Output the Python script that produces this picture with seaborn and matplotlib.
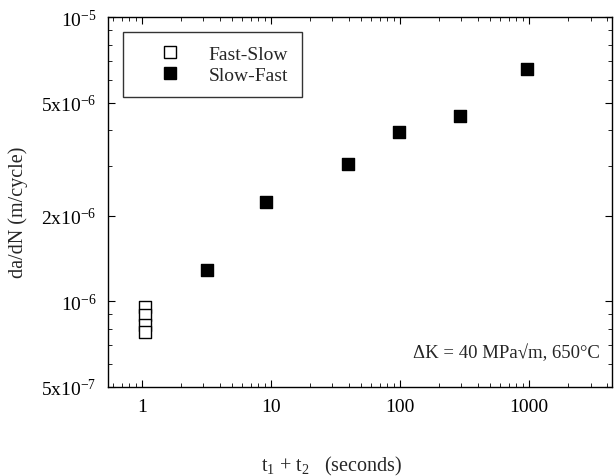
import matplotlib
matplotlib.use("Agg")
import matplotlib.pyplot as plt
import seaborn as sns
import pandas as pd
import numpy as np
from matplotlib.ticker import FixedLocator, FixedFormatter, LogLocator, NullFormatter
from matplotlib.lines import Line2D

# Data
fast_slow_t = [1.05, 1.05, 1.05, 1.05]
fast_slow_rate = [9.54e-7, 8.98e-7, 8.28e-7, 7.79e-7]
slow_fast_t = [3.2, 9.1, 39.5, 98, 292, 965]
slow_fast_rate = [1.29e-6, 2.24e-6, 3.04e-6, 3.94e-6, 4.49e-6, 6.56e-6]
xtick_vals = [1, 10, 100, 1000]
xtick_labels = ["1", "10", "100", "1000"]
ytick_vals = [5e-7, 1e-6, 2e-6, 5e-6, 1e-5]
ytick_labels = [r"5x10$^{-7}$", r"10$^{-6}$", r"2x10$^{-6}$", r"5x10$^{-6}$", r"10$^{-5}$"]

sns.set_theme(style="ticks")
plt.rcParams["font.family"] = ["Liberation Serif", "DejaVu Serif"]
plt.rcParams["mathtext.fontset"] = "custom"
plt.rcParams["mathtext.rm"] = "Liberation Serif"
plt.rcParams["mathtext.it"] = "Liberation Serif:italic"

fig = plt.figure(figsize=(6.16, 4.77), dpi=100)
ax = fig.add_axes([0.175, 0.1866, 0.8185, 0.7754])

df_fs = pd.DataFrame({"t": fast_slow_t, "r": fast_slow_rate})
df_sf = pd.DataFrame({"t": slow_fast_t, "r": slow_fast_rate})

sns.scatterplot(data=df_fs, x="t", y="r", marker="s", s=75, facecolor="white",
                edgecolor="black", linewidth=1.0, ax=ax, zorder=3)
sns.scatterplot(data=df_sf, x="t", y="r", marker="s", s=75, color="black",
                edgecolor="black", linewidth=1.0, ax=ax, zorder=3)

ax.set_xscale("log")
ax.set_yscale("log")
ax.set_xlim(0.545, 4400)
ax.set_ylim(5e-7, 1e-5)

ax.xaxis.set_major_locator(FixedLocator(xtick_vals))
ax.xaxis.set_major_formatter(FixedFormatter(xtick_labels))
ax.xaxis.set_minor_locator(LogLocator(base=10, subs=np.arange(2, 10)))
ax.xaxis.set_minor_formatter(NullFormatter())
ax.yaxis.set_major_locator(FixedLocator(ytick_vals))
ax.yaxis.set_major_formatter(FixedFormatter(ytick_labels))
ax.yaxis.set_minor_locator(LogLocator(base=10, subs=np.arange(2, 10)))
ax.yaxis.set_minor_formatter(NullFormatter())

ax.tick_params(axis="both", which="both", direction="in", top=True, right=True,
               colors="black", labelsize=14)
ax.tick_params(which="major", length=5, width=0.8, pad=8)
ax.tick_params(which="minor", length=3, width=0.6)
for sp in ax.spines.values():
    sp.set_color("black")
    sp.set_linewidth(1.0)

ax.set_xlabel(r"t$_1$ + t$_2$   (seconds)", fontsize=14.5, labelpad=28)
ax.xaxis.label.set_x(0.443)
ax.set_ylabel("da/dN (m/cycle)", fontsize=14.5)
ax.yaxis.set_label_coords(-0.158, 0.475)

handles = [
    Line2D([], [], marker="s", linestyle="none", markersize=8, markerfacecolor="white",
           markeredgecolor="black", markeredgewidth=1.0, label="Fast-Slow"),
    Line2D([], [], marker="s", linestyle="none", markersize=8, markerfacecolor="black",
           markeredgecolor="black", label="Slow-Fast"),
]
leg = ax.legend(handles=handles, loc="upper left", bbox_to_anchor=(0.03, 0.96),
                frameon=True, fancybox=False, edgecolor="black", fontsize=14,
                handletextpad=0.3, borderpad=0.7, labelspacing=0.15, borderaxespad=0,
                handlelength=3.4)
leg.get_frame().set_linewidth(1.0)

ax.text(0.975, 0.095, "ΔK = 40 MPa√m, 650°C", transform=ax.transAxes,
        ha="right", va="center", fontsize=13.5)

fig.savefig("out.png", dpi=100)
